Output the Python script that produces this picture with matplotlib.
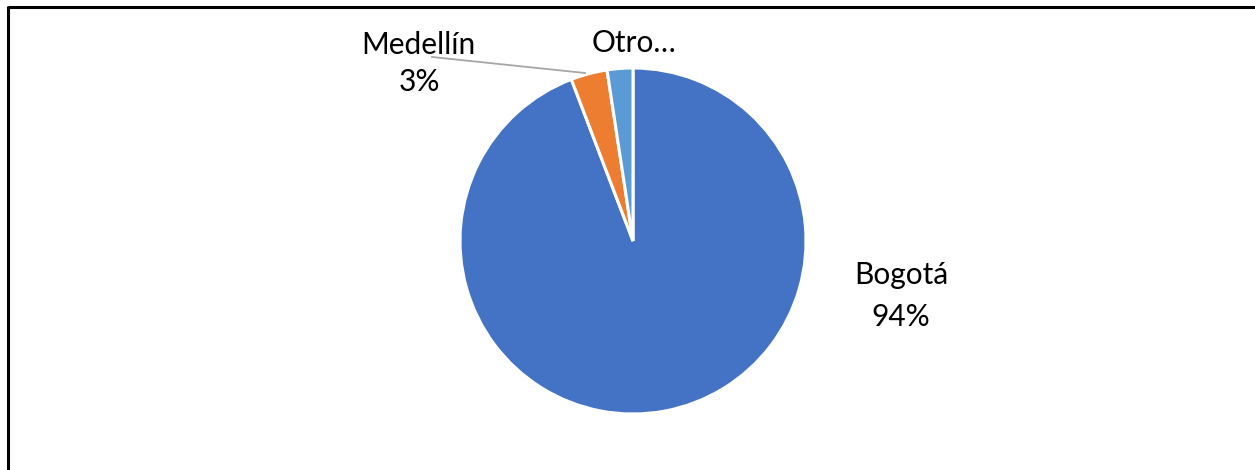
import matplotlib
matplotlib.use("Agg")
import matplotlib.pyplot as plt

ciudades = ["Bogotá", "Medellín", "Otro…"]
porcentajes = [94.2, 3.4, 2.4]
colores = ["#4472C4", "#ED7D31", "#5B9BD5"]

W, H = 1255, 470
fig = plt.figure(figsize=(W / 100, H / 100), dpi=100)
ax = fig.add_axes([0, 0, 1, 1])

# pie in pixel space, clockwise from 12 o'clock like the office chart
ax.pie(porcentajes, colors=colores, startangle=90, counterclock=False,
       center=(633, H - 241), radius=173,
       wedgeprops=dict(edgecolor="white", linewidth=2.2))

# pie() resets the limits, so fix them afterwards
ax.set_xlim(0, W)
ax.set_ylim(0, H)
ax.set_aspect("auto")
ax.axis("off")

fuente = dict(family=["Lato", "DejaVu Sans"], fontsize=21.5, color="black",
              ha="center", va="center")

# Bogotá label
ax.text(901, H - 275, ciudades[0], **fuente)
ax.text(901, H - 317, "%.0f%%" % porcentajes[0], **fuente)

# Medellín label with leader line
ax.text(418, H - 45, ciudades[1], **fuente)
ax.text(419, H - 82, "%.0f%%" % porcentajes[1], **fuente)
ax.plot([432, 585], [H - 57, H - 73], color="#A6A6A6", lw=1.3)

# truncated label for the small slice
ax.text(634, H - 43, ciudades[2], **fuente)

# chart frame (top and left edges)
ax.plot([8, W], [H - 7, H - 7], color="black", lw=2.2, solid_capstyle="butt")
ax.plot([8, 8], [0, H - 6], color="black", lw=2.2, solid_capstyle="butt")

fig.savefig("out.png", dpi=100)
